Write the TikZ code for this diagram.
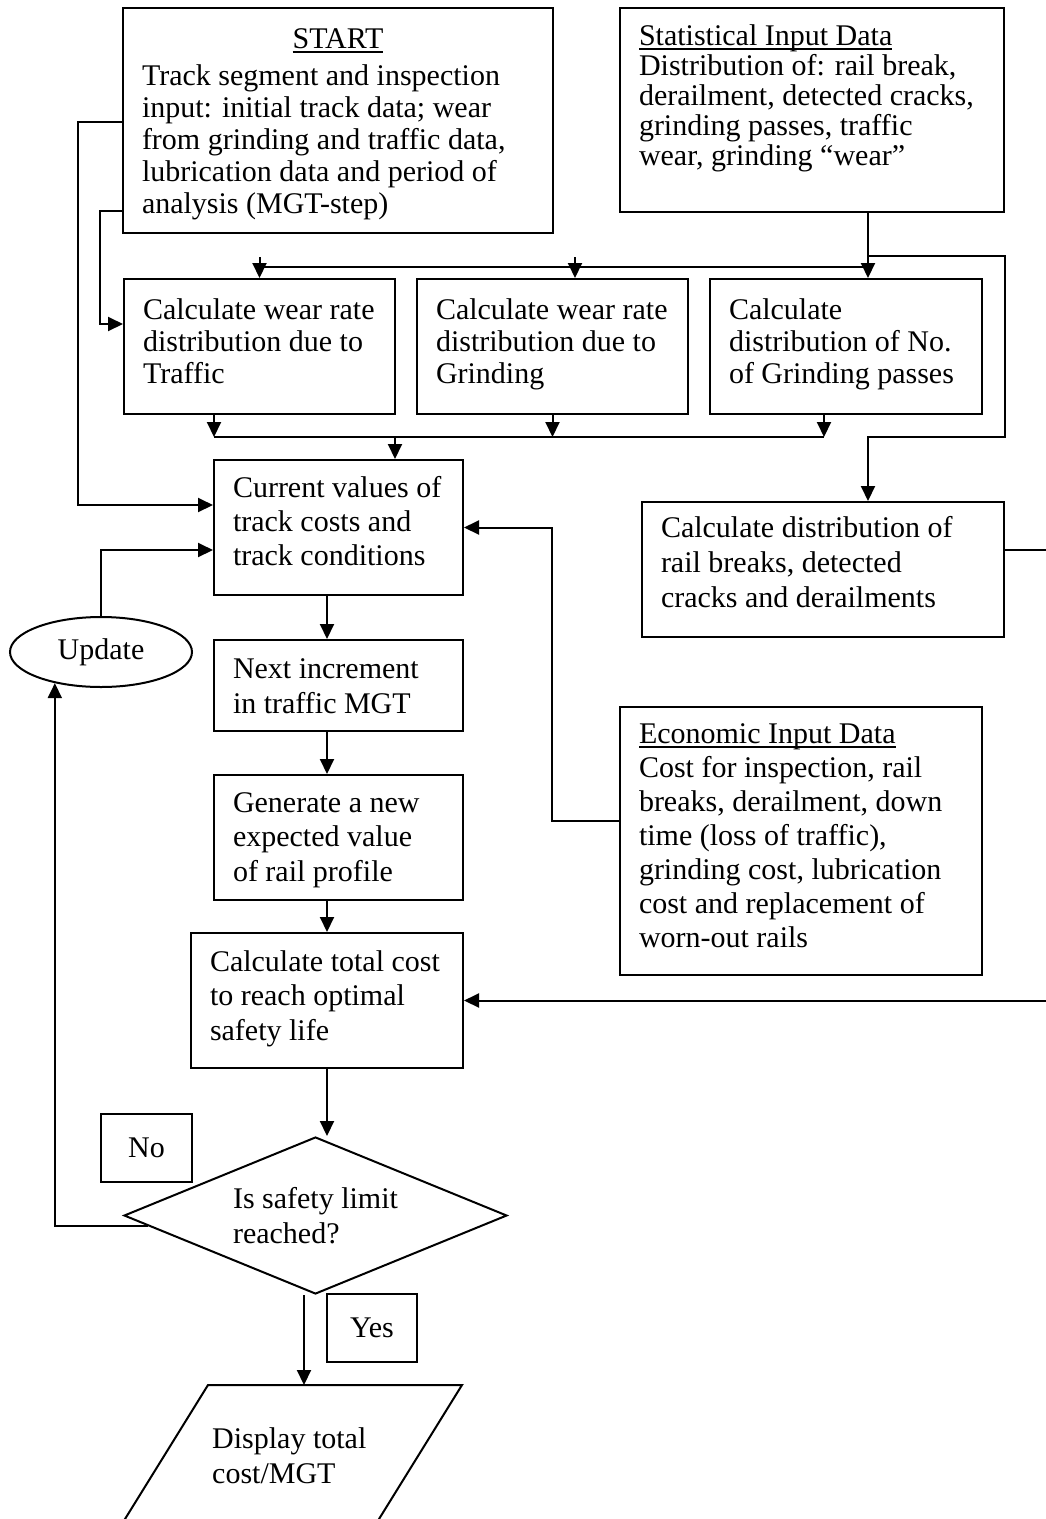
\documentclass[tikz,border=0pt]{standalone}
\usepackage{fontspec}
\setmainfont{Liberation Serif}
\usetikzlibrary{arrows.meta,shapes.geometric,calc}
\newcommand\myul[1]{\setbox0\hbox{#1}\rlap{\rule[-5pt]{\wd0}{1.6pt}}\box0}
\newcommand\myht[1]{\rule{0pt}{#1pt}}
\newcommand\mydp[1]{\rule[-#1pt]{0pt}{#1pt}}
\newcommand\mylw[2]{\makebox[#1pt][l]{#2}}
\begin{document}
\begin{tikzpicture}[x=1pt,y=-1pt,
  bd/.style={line width=2pt},
  fs/.style={font=\fontsize{30}{#1}\selectfont},
  box/.style={draw, bd, rectangle, inner sep=0pt, align=left},
  arr/.style={bd, -{Triangle[length=15pt,width=14pt]}},
]
\fill[white] (0,0) rectangle (1045,1519);
\useasboundingbox (0,0) rectangle (1045,1519);

% ---------- boxes ----------
\node[box, fs=32, minimum width=430pt, minimum height=225pt] (start) at (338,120.5)
 {\makebox[392pt][c]{\myht{40}\myul{START}}\\[5pt]
  Track segment and inspection\\
  input: initial track data; wear\\
  from grinding and traffic data,\\
  lubrication data and period of\\
  analysis (MGT-step)\mydp{20}};

\node[box, fs=30, minimum width=384pt, minimum height=204pt] (stat) at (812,110)
 {\mylw{346}{\myht{37}\myul{Statistical Input Data}}\\
  Distribution of: rail break,\\
  derailment, detected cracks,\\
  grinding passes, traffic\\
  wear, grinding “wear”\mydp{47}};

\node[box, fs=32, minimum width=271pt, minimum height=135pt] (T) at (259.5,346.5)
 {\mylw{233}{\myht{40}Calculate wear rate}\\distribution due to\\Traffic\mydp{31}};
\node[box, fs=32, minimum width=271pt, minimum height=135pt] (G) at (552.5,346.5)
 {\mylw{233}{\myht{40}Calculate wear rate}\\distribution due to\\Grinding\mydp{31}};
\node[box, fs=32, minimum width=272pt, minimum height=135pt] (N) at (846,346.5)
 {\mylw{234}{\myht{40}Calculate}\\distribution of No.\\of Grinding passes\mydp{31}};

\node[box, fs=34, minimum width=249pt, minimum height=135pt] (cur) at (338.5,527.5)
 {\mylw{211}{\myht{37}Current values of}\\track costs and\\track conditions\mydp{30}};

\node[box, fs=35, minimum width=362pt, minimum height=135pt] (rail) at (823,569.5)
 {\mylw{324}{\myht{35}Calculate distribution of}\\rail breaks, detected\\cracks and derailments\mydp{30}};

\node[box, fs=35, minimum width=249pt, minimum height=91pt] (next) at (338.5,685.5)
 {\mylw{211}{\myht{38}Next increment}\\in traffic MGT\mydp{18}};

\node[box, fs=34.5, minimum width=249pt, minimum height=125pt] (gen) at (338.5,837.5)
 {\mylw{211}{\myht{37}Generate a new}\\expected value\\of rail profile\mydp{19}};

\node[box, fs=34, minimum width=362pt, minimum height=268pt] (econ) at (801,841)
 {\mylw{324}{\myht{36}\myul{Economic Input Data}}\\
  Cost for inspection, rail\\
  breaks, derailment, down\\
  time (loss of traffic),\\
  grinding cost, lubrication\\
  cost and replacement of\\
  worn-out rails\mydp{28}};

\node[box, fs=34.5, minimum width=272pt, minimum height=135pt] (total) at (327,1000.5)
 {\mylw{234}{\myht{38}Calculate total cost}\\to reach optimal\\safety life\mydp{28}};

\node[draw, bd, ellipse, minimum width=182pt, minimum height=70pt, inner sep=0pt, fs=34] (upd) at (101,652) {Update};

\node[box, fs=34, minimum width=91pt, minimum height=68pt] (no) at (146.5,1148) {No};
\node[box, fs=34, minimum width=90pt, minimum height=68pt] (yes) at (372,1328) {Yes};

\node[draw, bd, diamond, aspect=2.44, inner sep=0pt, minimum width=383pt, minimum height=157pt,
      align=left, fs=35] (dia) at (315.5,1215.5) {Is safety limit\\reached?};

\coordinate (ptl) at (208,1385);
\coordinate (ptr) at (462,1385);
\coordinate (pbr) at (366,1540);
\coordinate (pbl) at (112,1540);
\draw[bd] (ptl) -- (ptr) -- (pbr) -- (pbl) -- cycle;
\node[anchor=north west, align=left, fs=35, inner sep=0pt] (disp) at (212,1427.5) {Display total\\cost/MGT};

% ---------- connectors ----------
\draw[arr] (start.west |- 0,122) -- ++(-44,0) |- (cur.west |- 0,505);
\draw[arr] (start.west |- 0,211) -- ++(-22,0) |- (T.west |- 0,324);
\draw[arr] (upd.north) |- (cur.west |- 0,550);
\draw[arr] (econ.west |- 0,821) -- ++(-67,0) |- (cur.east);
\draw[arr] (rail.east |- 0,550) -- ++(60,0) |- (total.east);

% top distribution
\coordinate (sd) at ([xshift=56pt]stat.south);
\coordinate (gd) at ([xshift=22.5pt]G.north);
\draw[arr] (sd) -- (sd |- N.north);
\draw[bd] (T.north |- 0,267) -- (sd |- 0,267);
\draw[arr] (T.north |- 0,257) -- (T.north);
\draw[arr] (gd |- 0,257) -- (gd);
\draw[arr] (sd |- 0,256) -- (rail.east |- 0,256) -- (rail.east |- 0,437) -| (sd |- rail.north);

% bottom collection
\coordinate (tb) at ([xshift=-45.5pt]T.south);
\coordinate (nb) at ([xshift=-22pt]N.south);
\coordinate (cb) at ([xshift=56.5pt]cur.north);
\draw[arr] (tb) -- (tb |- 0,437);
\draw[arr] (G.south) -- (G.south |- 0,437);
\draw[arr] (nb) -- (nb |- 0,437);
\draw[bd] (tb |- 0,437) -- (nb |- 0,437);
\draw[arr] (cb |- 0,437) -- (cb);

% main column
\draw[arr] (cur.south -| total.center) -- (next.north -| total.center);
\draw[arr] (next.south -| total.center) -- (gen.north -| total.center);
\draw[arr] (gen.south -| total.center) -- (total.north);
\draw[arr] (total.south) -- (total.south |- dia.north);

% loop back
\coordinate (dl) at ($(dia.west)!0.128!(dia.south)$);
\draw[arr] (dl) -| (upd.214);

% yes branch
\coordinate (db) at ([xshift=-11.5pt]dia.south);
\draw[arr] (db) -- (db |- ptl);
\end{tikzpicture}
\end{document}
